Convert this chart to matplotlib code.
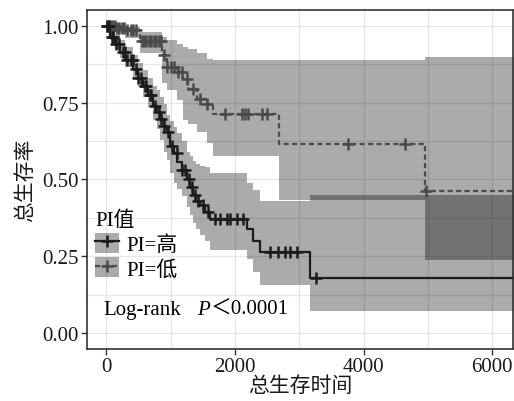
import numpy as np
import matplotlib
matplotlib.use("Agg")
import matplotlib.pyplot as plt
from matplotlib.patches import Patch
from matplotlib.lines import Line2D

plt.rcParams['font.family'] = ['Liberation Serif', 'Noto Sans CJK SC']

# ---- data ----
# PI=高 (solid)
hi_t = [0, 60, 140, 217, 300, 419, 500, 575, 650, 730, 790, 839, 900, 947, 994, 1050,
        1103, 1180, 1258, 1300, 1351, 1400, 1460, 1540, 1615, 2190, 2282, 2390, 3168, 6400]
hi_s = [1.0, 0.965, 0.94, 0.916, 0.89, 0.86, 0.83, 0.805, 0.775, 0.74, 0.72, 0.698,
        0.675, 0.656, 0.61, 0.585, 0.558, 0.53, 0.503, 0.475, 0.448, 0.43, 0.416, 0.395,
        0.373, 0.34, 0.30, 0.263, 0.178, 0.178]
hi_lo = [1.0, 0.955, 0.925, 0.895, 0.865, 0.83, 0.80, 0.77, 0.735, 0.695, 0.665, 0.63,
         0.59, 0.565, 0.52, 0.49, 0.47, 0.445, 0.41, 0.385, 0.36, 0.34, 0.32, 0.30,
         0.27, 0.24, 0.20, 0.156, 0.071, 0.071]
hi_up = [1.0, 0.99, 0.975, 0.955, 0.93, 0.905, 0.88, 0.855, 0.83, 0.805, 0.79, 0.77,
         0.745, 0.71, 0.69, 0.67, 0.65, 0.625, 0.59, 0.575, 0.56, 0.55, 0.545, 0.54,
         0.52, 0.49, 0.465, 0.43, 0.448, 0.448]
hi_cens = [20, 50, 90, 110, 160, 200, 260, 290, 320, 380, 410, 470, 500, 540, 600, 620,
           680, 700, 760, 820, 850, 900, 960, 1020, 1100, 1180, 1230, 1280, 1330, 1380,
           1430, 1500, 1580, 1693, 1770, 1879, 1926, 2034, 2127, 2547, 2671, 2780, 2858,
           2966, 3261]

# PI=低 (dashed)
lo_t = [0, 150, 300, 530, 860, 947, 1103, 1200, 1273, 1413, 1568, 1662, 2680, 4950, 6400]
lo_s = [1.0, 0.993, 0.985, 0.952, 0.905, 0.865, 0.85, 0.828, 0.795, 0.763, 0.745,
        0.714, 0.617, 0.461, 0.461]
lo_lo = [1.0, 0.98, 0.96, 0.91, 0.815, 0.79, 0.76, 0.695, 0.68, 0.655, 0.62,
         0.578, 0.432, 0.237, 0.237]
lo_up = [1.0, 1.0, 0.995, 0.98, 0.965, 0.955, 0.94, 0.93, 0.925, 0.91, 0.893,
         0.89, 0.89, 0.90, 0.90]
lo_cens = [10, 40, 70, 100, 130, 170, 200, 250, 280, 330, 380, 420, 470, 550, 580, 620,
           660, 700, 740, 780, 820, 850, 900, 950, 1000, 1050, 1120, 1180, 1260, 1350,
           1460, 1570, 1848, 2112, 2158, 2205, 2423, 2500, 3758, 4643, 4970]

labels = ['PI=高', 'PI=低']
hi_col = '#1c1c1c'
lo_col = '#4a4a4a'


def surv_at(t, s, times):
    idx = np.searchsorted(t, times, side='right') - 1
    return np.asarray(s)[idx]


fig = plt.figure(figsize=(5.14, 4.02), dpi=100)
ax = fig.add_axes([0.169, 0.129, 0.829, 0.844])

ax.set_xlim(-300, 6320)
ax.set_ylim(-0.052, 1.052)
ax.set_xticks([0, 2000, 4000, 6000])
ax.set_xticks([1000, 3000, 5000], minor=True)
ax.set_yticks([0, 0.25, 0.5, 0.75, 1.0])
ax.set_yticks([0.125, 0.375, 0.625, 0.875], minor=True)
ax.set_yticklabels(['0.00', '0.25', '0.50', '0.75', '1.00'])
ax.grid(True, which='both', color='#e6e6e6', lw=0.9, zorder=0)
ax.set_axisbelow(True)

ax.fill_between(hi_t, hi_lo, hi_up, step='post', color='k', alpha=0.33, lw=0, zorder=1)
ax.fill_between(lo_t, lo_lo, lo_up, step='post', color='k', alpha=0.33, lw=0, zorder=1)

ax.step(lo_t, lo_s, where='post', color=lo_col, lw=1.6, dashes=(2.3, 1.5), zorder=3)
ax.step(hi_t, hi_s, where='post', color=hi_col, lw=1.6, zorder=4)
ax.plot(lo_cens, surv_at(lo_t, lo_s, lo_cens), ls='none', marker='+', ms=8, mew=1.8,
        color=lo_col, zorder=3)
ax.plot(hi_cens, surv_at(hi_t, hi_s, hi_cens), ls='none', marker='+', ms=8, mew=1.8,
        color=hi_col, zorder=4)

for sp in ax.spines.values():
    sp.set_color('#333333')
    sp.set_linewidth(1.2)
ax.tick_params(which='major', length=4, width=1, color='#333333', labelsize=15,
               labelcolor='#1a1a1a', pad=2)
ax.tick_params(which='minor', length=0)

ax.set_xlabel('总生存时间', fontsize=15, labelpad=0, color='#1a1a1a')
ax.set_ylabel('总生存率', fontsize=15, labelpad=4, color='#1a1a1a')

handles = [
    (Patch(facecolor='k', alpha=0.33, edgecolor='none'),
     Line2D([], [], color=hi_col, lw=1.6, marker='+', ms=8, mew=1.8)),
    (Patch(facecolor='k', alpha=0.33, edgecolor='none'),
     Line2D([], [], color=lo_col, lw=1.6, dashes=(2.3, 1.5), marker='+', ms=8, mew=1.8)),
]
leg = ax.legend(handles, labels, title='PI值', loc='upper left',
                bbox_to_anchor=(0.019, 0.408), frameon=False, fontsize=15,
                title_fontsize=15, handlelength=1.15, handleheight=1.1,
                labelspacing=0.12, handletextpad=0.35, borderpad=0,
                borderaxespad=0, alignment='left')

ax.text(0.038, 0.118, 'Log-rank', transform=ax.transAxes, fontsize=15,
        va='center', ha='left')
ax.text(0.258, 0.118, 'P', transform=ax.transAxes, fontsize=15, style='italic',
        va='center', ha='left')
ax.text(0.29, 0.118, '＜0.0001', transform=ax.transAxes, fontsize=15,
        va='center', ha='left')

fig.savefig('out.png', dpi=100)
